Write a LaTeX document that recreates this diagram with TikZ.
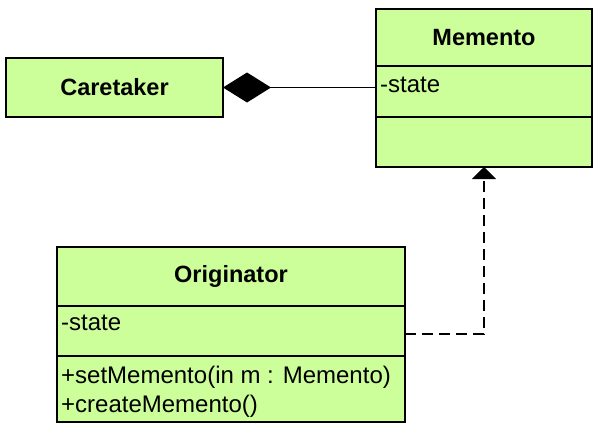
\documentclass[tikz,border=0pt]{standalone}
\usepackage{fontspec}
\setmainfont{Liberation Sans}
\usetikzlibrary{arrows.meta}
\definecolor{boxfill}{RGB}{204,255,153}
\tikzset{
  umlbox/.style={draw=black, line width=2.5pt, fill=boxfill, inner sep=0pt, outer sep=0pt, anchor=north west},
  umltitle/.style={font=\fontsize{23.5}{28}\selectfont\bfseries},
  member/.style={anchor=base west, inner sep=0pt, font=\fontsize{24}{28}\selectfont},
  conn/.style={draw=black, line width=1.5pt},
  dep/.style={conn, dash pattern=on 11pt off 6pt}
}
\begin{document}
\begin{tikzpicture}[x=1pt,y=-1pt]
\useasboundingbox (0,0) rectangle (601,434);
% Memento
\node[umlbox, umltitle, minimum width=216pt, minimum height=57pt] (memtitle) at (376,9) {Memento};
\node[umlbox, minimum width=216pt, minimum height=51pt] (memattr) at (376,66) {};
\node[umlbox, minimum width=216pt, minimum height=50pt] (memops) at (376,117) {};
\node[member] (memstate) at (380,92) {-state};
% Caretaker
\node[umlbox, umltitle, minimum width=217pt, minimum height=59pt] (care) at (6,58) {Caretaker};
% Originator
\node[umlbox, umltitle, minimum width=348pt, minimum height=59pt] (origtitle) at (57,247) {Originator};
\node[umlbox, minimum width=348pt, minimum height=50pt] (origattr) at (57,306) {};
\node[umlbox, minimum width=348pt, minimum height=66pt] (origops) at (57,356) {};
\node[member] (origstate) at (61,330) {-state};
\node[member] (origset) at (61,383) {+setMemento(in m : Memento)};
\node[member] (origcreate) at (61,412) {+createMemento()};
% connectors
\draw[conn, {Diamond[length=48pt,width=30pt]}-] (care.east) -- (care.east -| memattr.west);
\draw[dep, -{Triangle[length=12pt,width=24pt]}] ([yshift=-3pt]origattr.east) -| (memops.south);
\end{tikzpicture}
\end{document}
